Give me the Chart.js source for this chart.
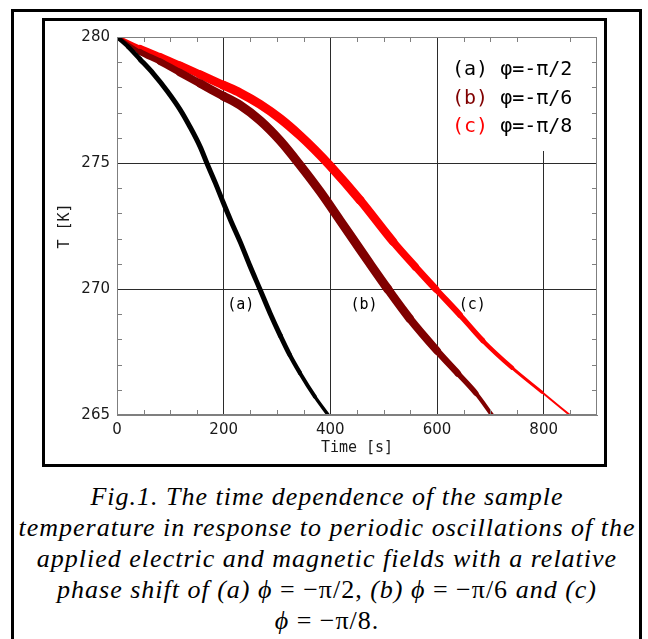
<!DOCTYPE html>
<html>
<head>
<meta charset="utf-8">
<script src="https://cdn.jsdelivr.net/npm/chart.js@4.4.0/dist/chart.umd.min.js"></script>
<style>
  html, body { margin: 0; padding: 0; background: #fff; width: 648px; height: 639px; overflow: hidden; }
  #outer { position: absolute; left: 11px; top: 9px; width: 625px; height: 700px; border: 3px solid #000; border-bottom: none; }
  #inner { position: absolute; left: 42px; top: 18px; width: 559px; height: 443px; border: 3px solid #000; }
  #plot { position: absolute; left: 45px; top: 21px; }
  #cap { position: absolute; left: 0; top: 481px; width: 654px; text-align: center;
         font-family: "Liberation Serif", serif; font-style: italic; font-size: 26px; letter-spacing: 1px;
         line-height: 31px; color: #000; white-space: nowrap; }
  #cap .up { font-style: normal; }
</style>
</head>
<body>
<div id="outer"></div>
<div id="inner"></div>
<canvas id="plot" width="559" height="443"></canvas>
<div id="cap">
  <div>Fig.1. The time dependence of the sample</div>
  <div>temperature in response to periodic oscillations of the</div>
  <div>applied electric and magnetic fields with a relative</div>
  <div>phase shift of (a) ϕ <span class="up">= −π/2,</span> (b) ϕ <span class="up">= −π/6</span> and (c)</div>
  <div>ϕ <span class="up">= −π/8.</span></div>
</div>
<script>
// curve (a) phi = -pi/2
const aTime = [0, 21, 43, 68, 94, 118, 137, 156, 169, 184, 199, 214, 231, 249, 268, 287, 306, 324, 343, 371, 396];
const aTemp = [280, 279.61, 279.12, 278.55, 277.86, 277.13, 276.43, 275.64, 274.97, 274.23, 273.44,
  272.68, 271.87, 270.93, 269.99, 269.04, 268.16, 267.38, 266.67, 265.73, 265.0];
// curve (b) phi = -pi/6
const bTime = [0, 43, 81, 118, 156, 199, 231, 268, 306, 343, 381, 418, 446, 474, 508, 549, 600, 639, 673, 703];
const bTemp = [280, 279.41, 279.02, 278.59, 278.15, 277.66, 277.29, 276.69, 275.88, 274.92, 273.86,
  272.73, 271.87, 271.01, 269.99, 268.82, 267.55, 266.65, 265.86, 265.0];
// curve (c) phi = -pi/8
const cTime = [0, 43, 81, 118, 156, 199, 231, 268, 306, 343, 371, 399, 456, 518, 559, 598, 643, 686, 741, 797, 849];
const cTemp = [280, 279.57, 279.23, 278.88, 278.51, 278.09, 277.78, 277.33, 276.76, 276.09, 275.52,
  274.90, 273.52, 271.87, 270.89, 269.99, 268.97, 267.95, 266.87, 265.90, 265.0];

const seriesTags = ['(a)', '(b)', '(c)'];
const seriesPhase = ['φ=-π/2', 'φ=-π/6', 'φ=-π/8'];
const tagTimes = [232, 463, 666];
const tagTemp = 269.36;

const xTicks = [0, 200, 400, 600, 800];
const yTicks = [265, 270, 275, 280];

const colors = ['#000000', '#800000', '#ff0000'];
// band thickness along each curve (time, px)
const widthKnots = [
  [[0, 4], [50, 5], [300, 5], [396, 3.2]],
  [[0, 3], [60, 6], [200, 9], [500, 9], [600, 7.5], [703, 3.5]],
  [[0, 3], [60, 6], [200, 9], [450, 9], [550, 7.5], [650, 5.5], [750, 3.5], [849, 1.5]],
];

const toPoints = (ts, vs) => ts.map((t, i) => ({ x: t, y: vs[i] }));

function widthAt(knots, t) {
  if (t <= knots[0][0]) return knots[0][1];
  for (let i = 1; i < knots.length; i++) {
    if (t <= knots[i][0]) {
      const [t0, w0] = knots[i - 1];
      const [t1, w1] = knots[i];
      return w0 + (w1 - w0) * (t - t0) / (t1 - t0);
    }
  }
  return knots[knots.length - 1][1];
}

function lineSet(ts, vs, idx) {
  return {
    data: toPoints(ts, vs),
    borderColor: colors[idx],
    borderWidth: 6,
    pointRadius: 0,
    cubicInterpolationMode: 'monotone',
    borderCapStyle: 'round',
    borderJoinStyle: 'round',
    clip: 0,
    segment: {
      borderWidth: c => widthAt(widthKnots[idx], (c.p0.parsed.x + c.p1.parsed.x) / 2),
    },
  };
}

const gridCol = '#2b2b2b';
const frameCol = '#7f7f7f';
const monoFont = '"DejaVu Sans Mono", monospace';

// white legend box, legend text, curve tags, inward ticks and frame
const legendPlugin = {
  id: 'legendBox',
  beforeDatasetsDraw(chart) {
    const { ctx, chartArea } = chart;
    ctx.save();
    ctx.fillStyle = '#fff';
    ctx.fillRect(chartArea.right - 155, chartArea.top + 1, 150, 113);
    ctx.font = '20px ' + monoFont;
    ctx.textBaseline = 'middle';
    ctx.textAlign = 'left';
    const tagW = ctx.measureText('(a) ').width;
    seriesTags.forEach((tag, i) => {
      const y = chartArea.top + 33 + i * 28.5;
      const x = chartArea.right - 145;
      ctx.fillStyle = colors[i];
      ctx.fillText(tag, x, y);
      ctx.fillStyle = '#000';
      ctx.fillText(seriesPhase[i], x + tagW, y);
    });
    const xs = chart.scales.x;
    const ys = chart.scales.y;
    ctx.font = '15px ' + monoFont;
    ctx.textAlign = 'center';
    ctx.fillStyle = '#000';
    seriesTags.forEach((tag, i) => {
      ctx.fillText(tag, xs.getPixelForValue(tagTimes[i]), ys.getPixelForValue(tagTemp));
    });
    ctx.restore();
  },
  afterDatasetsDraw(chart) {
    const { ctx, chartArea } = chart;
    const xs = chart.scales.x;
    const ys = chart.scales.y;
    ctx.save();
    ctx.strokeStyle = frameCol;
    ctx.lineWidth = 1;
    ctx.beginPath();
    for (let t = 50; t < 900; t += 50) {
      if (t % 200 === 0) continue;
      const px = Math.round(xs.getPixelForValue(t)) + 0.5;
      ctx.moveTo(px, chartArea.top); ctx.lineTo(px, chartArea.top + 5);
      ctx.moveTo(px, chartArea.bottom); ctx.lineTo(px, chartArea.bottom - 5);
    }
    for (let v = 266; v < 280; v++) {
      if (v % 5 === 0) continue;
      const py = Math.round(ys.getPixelForValue(v)) + 0.5;
      ctx.moveTo(chartArea.left, py); ctx.lineTo(chartArea.left + 5, py);
      ctx.moveTo(chartArea.right, py); ctx.lineTo(chartArea.right - 5, py);
    }
    ctx.stroke();
    ctx.strokeRect(chartArea.left + 0.5, chartArea.top + 0.5, chartArea.width - 1, chartArea.height - 1);
    ctx.restore();
  },
};

new Chart(document.getElementById('plot'), {
  type: 'line',
  data: {
    datasets: [
      lineSet(aTime, aTemp, 0),
      lineSet(bTime, bTemp, 1),
      lineSet(cTime, cTemp, 2),
    ],
  },
  options: {
    responsive: false,
    animation: false,
    devicePixelRatio: 1,
    layout: { padding: { top: 12, right: 7, left: 0, bottom: 0 } },
    plugins: { legend: { display: false }, tooltip: { enabled: false } },
    scales: {
      x: {
        type: 'linear',
        min: 0,
        max: 900,
        afterBuildTicks: s => { s.ticks = xTicks.map(v => ({ value: v })); },
        afterFit: s => { s.height = 49; },
        ticks: { padding: 6, color: '#1a1a1a', font: { family: '"DejaVu Sans"', size: 15 } },
        grid: {
          drawTicks: false,
          color: c => (c.tick && c.tick.value === 0 ? 'rgba(0,0,0,0)' : gridCol),
        },
        border: { color: frameCol },
        title: {
          display: true,
          text: 'Time [s]',
          color: '#1a1a1a',
          padding: { top: 0, bottom: 7 },
          font: { family: '"DejaVu Sans Mono"', size: 15 },
        },
      },
      y: {
        type: 'linear',
        min: 265,
        max: 280,
        afterBuildTicks: s => { s.ticks = yTicks.map(v => ({ value: v })); },
        afterFit: s => { s.width = 72; },
        ticks: { padding: 7, color: '#1a1a1a', font: { family: '"DejaVu Sans"', size: 15 } },
        grid: {
          drawTicks: false,
          color: c => (c.tick && (c.tick.value === 265 || c.tick.value === 280) ? 'rgba(0,0,0,0)' : gridCol),
        },
        border: { color: frameCol },
        title: {
          display: true,
          text: 'T [K]',
          color: '#1a1a1a',
          padding: { top: 11, bottom: 0 },
          font: { family: '"DejaVu Sans Mono"', size: 15 },
        },
      },
    },
  },
  plugins: [legendPlugin],
});
</script>
</body>
</html>
